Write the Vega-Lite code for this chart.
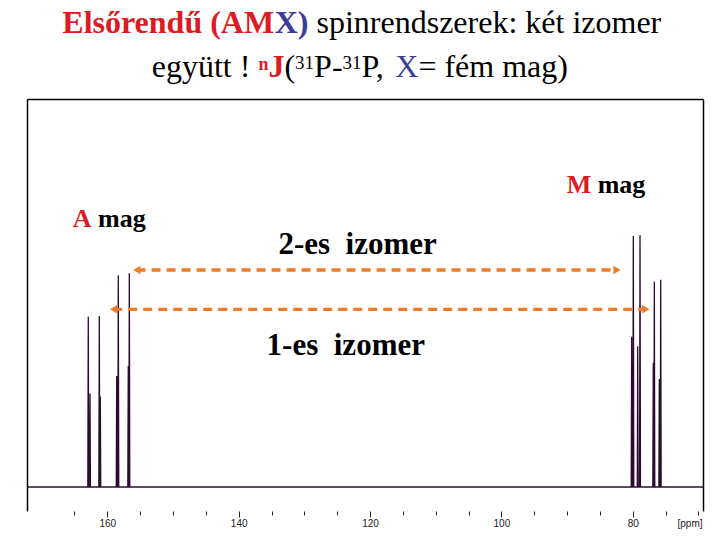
{
  "$schema": "https://vega.github.io/schema/vega-lite/v6.json",
  "width": 676,
  "height": 412,
  "autosize": {"type": "none"},
  "padding": {"left": 27, "top": 99, "right": 17, "bottom": 29},
  "background": "white",
  "config": {"view": {"stroke": null}},
  "datasets": {
    "spectrum": [
      {"ppm": 172.23, "v": 0},
      {"ppm": 162.97, "v": 0}, {"ppm": 162.90, "v": 43.9}, {"ppm": 162.83, "v": 0},
      {"ppm": 162.71, "v": 0}, {"ppm": 162.64, "v": 24.1}, {"ppm": 162.57, "v": 0},
      {"ppm": 161.29, "v": 0}, {"ppm": 161.22, "v": 44.1}, {"ppm": 161.15, "v": 0},
      {"ppm": 161.14, "v": 0}, {"ppm": 161.07, "v": 23.3}, {"ppm": 161.00, "v": 0},
      {"ppm": 158.64, "v": 0}, {"ppm": 158.57, "v": 28.6}, {"ppm": 158.50, "v": 0},
      {"ppm": 158.40, "v": 0}, {"ppm": 158.33, "v": 54.6}, {"ppm": 158.26, "v": 0},
      {"ppm": 156.88, "v": 0}, {"ppm": 156.81, "v": 31.2}, {"ppm": 156.74, "v": 0},
      {"ppm": 156.72, "v": 0}, {"ppm": 156.65, "v": 55.1}, {"ppm": 156.58, "v": 0},
      {"ppm": 80.23, "v": 0}, {"ppm": 80.16, "v": 38.7}, {"ppm": 80.09, "v": 0},
      {"ppm": 79.98, "v": 0}, {"ppm": 79.91, "v": 64.7}, {"ppm": 79.84, "v": 0},
      {"ppm": 79.31, "v": 0}, {"ppm": 79.24, "v": 36.3}, {"ppm": 79.17, "v": 0},
      {"ppm": 78.96, "v": 0}, {"ppm": 78.89, "v": 64.9}, {"ppm": 78.82, "v": 0},
      {"ppm": 76.94, "v": 0}, {"ppm": 76.87, "v": 32.0}, {"ppm": 76.80, "v": 0},
      {"ppm": 76.78, "v": 0}, {"ppm": 76.71, "v": 52.9}, {"ppm": 76.64, "v": 0},
      {"ppm": 76.02, "v": 0}, {"ppm": 75.95, "v": 27.8}, {"ppm": 75.88, "v": 0},
      {"ppm": 75.81, "v": 0}, {"ppm": 75.74, "v": 53.4}, {"ppm": 75.67, "v": 0},
      {"ppm": 69.30, "v": 0}
    ],
    "arrows": [
      {"izomer": "2-es", "ppm": 155.55, "ppm2": 82.35, "v": 55.93},
      {"izomer": "1-es", "ppm": 159.10, "ppm2": 77.95, "v": 45.80}
    ],
    "heads": [
      {"ppm": 155.51, "v": 55.93, "side": "left"},
      {"ppm": 82.39, "v": 55.93, "side": "right"},
      {"ppm": 159.06, "v": 45.80, "side": "left"},
      {"ppm": 78.01, "v": 45.80, "side": "right"}
    ],
    "titleRedBold": [
      {"text": "Elsőrendű (AM", "ppm": 166.855, "v": 116.93},
      {"text": "J", "ppm": 135.473, "v": 105.59}
    ],
    "titleBlueBold": [
      {"text": "X)", "ppm": 134.514, "v": 116.93}
    ],
    "titleBlue": [
      {"text": "X", "ppm": 116.151, "v": 105.59}
    ],
    "titleBlack": [
      {"text": "spinrendszerek: két izomer", "ppm": 128.149, "v": 116.93},
      {"text": "együtt !", "ppm": 153.243, "v": 105.59},
      {"text": "(", "ppm": 133.037, "v": 105.59},
      {"text": "P-", "ppm": 128.515, "v": 105.59},
      {"text": "P,", "ppm": 121.297, "v": 105.59},
      {"text": "= fém mag)", "ppm": 112.633, "v": 105.59}
    ],
    "supRed": [
      {"text": "n", "ppm": 136.996, "v": 107.5}
    ],
    "supBlack": [
      {"text": "31", "ppm": 131.408, "v": 107.7},
      {"text": "31", "ppm": 124.191, "v": 107.7}
    ],
    "labelRed": [
      {"text": "A", "ppm": 165.27, "v": 67.09},
      {"text": "M", "ppm": 90.053, "v": 75.70}
    ],
    "labelBlack": [
      {"text": "mag", "ppm": 161.42, "v": 67.09},
      {"text": "mag", "ppm": 85.333, "v": 75.70}
    ],
    "izomer": [
      {"text": "2-es\u00a0 izomer", "ppm": 121.884, "v": 60.05},
      {"text": "1-es\u00a0 izomer", "ppm": 123.688, "v": 34.02}
    ]
  },
  "encoding": {
    "x": {"field": "ppm", "type": "quantitative", "scale": {"domain": [69.30, 172.23], "reverse": true, "nice": false, "zero": false}, "axis": null},
    "y": {"field": "v", "type": "quantitative", "scale": {"domain": [-6.19, 100], "nice": false, "zero": false}, "axis": null}
  },
  "resolve": {"axis": {"x": "independent", "y": "independent"}},
  "layer": [
    {
      "data": {"values": [{}]},
      "mark": {"type": "rule", "color": "#2d0b30", "strokeWidth": 3.5},
      "encoding": {
        "x": null,
        "y": {"datum": 0, "type": "quantitative", "axis": null}
      }
    },
    {
      "data": {"name": "spectrum"},
      "mark": {"type": "line", "color": "#2d0b30", "strokeWidth": 1.3},
      "encoding": {
        "x": {
          "field": "ppm", "type": "quantitative",
          "scale": {"domain": [69.30, 172.23], "reverse": true, "nice": false, "zero": false},
          "axis": {
            "orient": "bottom", "domain": false, "grid": false,
            "values": [70, 75, 80, 85, 90, 95, 100, 105, 110, 115, 120, 125, 130, 135, 140, 145, 150, 155, 160, 165],
            "labelExpr": "datum.value % 20 === 0 ? datum.label : ''",
            "tickSize": {"condition": {"test": "datum.value % 20 === 0", "value": 6}, "value": 4},
            "tickColor": "#222222", "tickWidth": 1,
            "labelFont": "Liberation Sans", "labelFontSize": 10, "labelColor": "#222222",
            "labelBaseline": "middle", "labelPadding": 6,
            "title": "[ppm]", "titleFont": "Liberation Sans", "titleFontSize": 10, "titleFontWeight": "normal",
            "titleColor": "#222222", "titleAnchor": "end", "titleAlign": "right", "titleBaseline": "middle",
            "titleX": 675, "titleY": 12
          }
        },
        "y": {
          "field": "v", "type": "quantitative",
          "scale": {"domain": [-6.19, 100], "nice": false, "zero": false},
          "axis": {"orient": "left", "domain": true, "domainColor": "#000000", "domainWidth": 1.5, "ticks": false, "labels": false, "grid": false, "title": null}
        }
      }
    },
    {
      "data": {"name": "arrows"},
      "mark": {"type": "rule", "color": "#ee7b2a", "strokeWidth": 3.3, "strokeDash": [9, 6]},
      "encoding": {
        "x": {
          "field": "ppm", "type": "quantitative",
          "scale": {"domain": [69.30, 172.23], "reverse": true, "nice": false, "zero": false},
          "axis": {"orient": "top", "domain": true, "domainColor": "#000000", "domainWidth": 1.5, "ticks": false, "labels": false, "grid": false, "title": null}
        },
        "x2": {"field": "ppm2"},
        "y": {
          "field": "v", "type": "quantitative",
          "scale": {"domain": [-6.19, 100], "nice": false, "zero": false},
          "axis": {"orient": "right", "domain": true, "domainColor": "#000000", "domainWidth": 1.5, "ticks": false, "labels": false, "grid": false, "title": null}
        }
      }
    },
    {
      "data": {"name": "heads"},
      "mark": {"type": "point", "filled": true, "color": "#ee7b2a", "opacity": 1, "size": 70},
      "encoding": {
        "shape": {"field": "side", "type": "nominal", "scale": {"domain": ["left", "right"], "range": ["triangle-left", "triangle-right"]}, "legend": null}
      }
    },
    {
      "data": {"name": "titleRedBold"},
      "mark": {"type": "text", "align": "left", "baseline": "alphabetic", "font": "Times New Roman, Liberation Serif, Tinos, DejaVu Serif, serif", "fontSize": 32, "fontWeight": "bold", "color": "#dc1c24"},
      "encoding": {"text": {"field": "text"}}
    },
    {
      "data": {"name": "titleBlueBold"},
      "mark": {"type": "text", "align": "left", "baseline": "alphabetic", "font": "Times New Roman, Liberation Serif, Tinos, DejaVu Serif, serif", "fontSize": 32, "fontWeight": "bold", "color": "#3c3c96"},
      "encoding": {"text": {"field": "text"}}
    },
    {
      "data": {"name": "titleBlue"},
      "mark": {"type": "text", "align": "left", "baseline": "alphabetic", "font": "Times New Roman, Liberation Serif, Tinos, DejaVu Serif, serif", "fontSize": 32, "color": "#3c3c96"},
      "encoding": {"text": {"field": "text"}}
    },
    {
      "data": {"name": "titleBlack"},
      "mark": {"type": "text", "align": "left", "baseline": "alphabetic", "font": "Times New Roman, Liberation Serif, Tinos, DejaVu Serif, serif", "fontSize": 32, "color": "#000000"},
      "encoding": {"text": {"field": "text"}}
    },
    {
      "data": {"name": "supRed"},
      "mark": {"type": "text", "align": "left", "baseline": "alphabetic", "font": "Times New Roman, Liberation Serif, Tinos, DejaVu Serif, serif", "fontSize": 18, "fontWeight": "bold", "color": "#dc1c24"},
      "encoding": {"text": {"field": "text"}}
    },
    {
      "data": {"name": "supBlack"},
      "mark": {"type": "text", "align": "left", "baseline": "alphabetic", "font": "Times New Roman, Liberation Serif, Tinos, DejaVu Serif, serif", "fontSize": 19, "color": "#000000"},
      "encoding": {"text": {"field": "text"}}
    },
    {
      "data": {"name": "labelRed"},
      "mark": {"type": "text", "align": "left", "baseline": "alphabetic", "font": "Times New Roman, Liberation Serif, Tinos, DejaVu Serif, serif", "fontSize": 26, "fontWeight": "bold", "color": "#dc1c24"},
      "encoding": {"text": {"field": "text"}}
    },
    {
      "data": {"name": "labelBlack"},
      "mark": {"type": "text", "align": "left", "baseline": "alphabetic", "font": "Times New Roman, Liberation Serif, Tinos, DejaVu Serif, serif", "fontSize": 26, "fontWeight": "bold", "color": "#000000"},
      "encoding": {"text": {"field": "text"}}
    },
    {
      "data": {"name": "izomer"},
      "mark": {"type": "text", "align": "center", "baseline": "alphabetic", "font": "Times New Roman, Liberation Serif, Tinos, DejaVu Serif, serif", "fontSize": 31, "fontWeight": "bold", "color": "#000000"},
      "encoding": {"text": {"field": "text"}}
    }
  ]
}
